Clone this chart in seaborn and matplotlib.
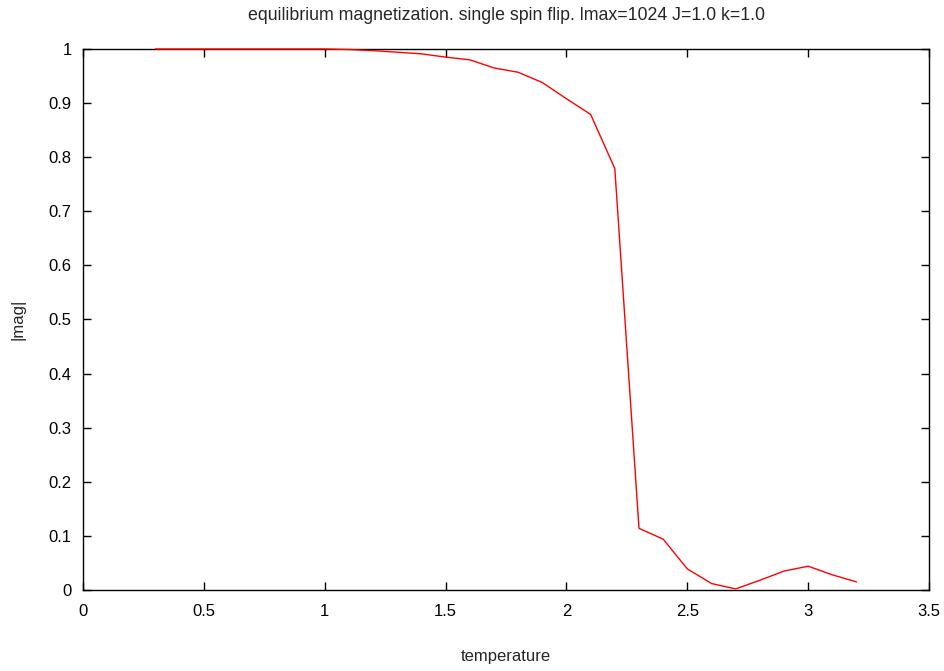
import numpy as np
import pandas as pd
import matplotlib
matplotlib.use("Agg")
import matplotlib.pyplot as plt
import seaborn as sns

# valeurs
temperature = [0.3, 0.4, 0.5, 0.6, 0.7, 0.8, 0.9, 1.0, 1.1, 1.2, 1.3, 1.4, 1.5,
               1.6, 1.7, 1.8, 1.9, 2.0, 2.1, 2.2, 2.3, 2.4, 2.5, 2.6, 2.7, 2.8,
               2.9, 3.0, 3.1, 3.2]
mag = [1.0, 1.0, 1.0, 1.0, 1.0, 1.0, 1.0, 1.0, 0.999, 0.997, 0.994, 0.991, 0.985,
       0.980, 0.965, 0.957, 0.938, 0.908, 0.879, 0.779, 0.114, 0.094, 0.039, 0.012,
       0.002, 0.018, 0.035, 0.044, 0.028, 0.015]

x_ticks = [0, 0.5, 1, 1.5, 2, 2.5, 3, 3.5]
x_ticklabels = ["0", "0.5", "1", "1.5", "2", "2.5", "3", "3.5"]
y_ticks = [0, 0.1, 0.2, 0.3, 0.4, 0.5, 0.6, 0.7, 0.8, 0.9, 1.0]
y_ticklabels = ["0", "0.1", "0.2", "0.3", "0.4", "0.5", "0.6", "0.7", "0.8", "0.9", "1"]

df = pd.DataFrame({"temperature": temperature, "mag": mag})

sns.set_style("ticks")
plt.rcParams["font.family"] = ["Liberation Sans", "DejaVu Sans"]
plt.rcParams["font.size"] = 12

fig = plt.figure(figsize=(9.44, 6.71), dpi=100)
ax = fig.add_axes([0.0879, 0.1207, 0.8963, 0.8063])

sns.lineplot(data=df, x="temperature", y="mag", color="#ff0000", linewidth=1.0, ax=ax)
for ln in ax.lines:
    ln.set_clip_on(False)
    ln.set_zorder(5)

ax.set_xlim(0, 3.5)
ax.set_ylim(0, 1)
ax.set_xticks(x_ticks)
ax.set_xticklabels(x_ticklabels)
ax.set_yticks(y_ticks)
ax.set_yticklabels(y_ticklabels)
ax.tick_params(axis="x", direction="in", length=6, width=1, top=True,
               labelsize=12, colors="black", pad=10)
ax.tick_params(axis="y", direction="in", length=6, width=1, right=True,
               labelsize=12, colors="black", pad=8)
for s in ax.spines.values():
    s.set_visible(True)
    s.set_linewidth(1.0)
    s.set_color("black")

ax.set_xlabel("temperature", fontsize=12, labelpad=22)
ax.set_ylabel("|mag|", fontsize=12, labelpad=17)
ax.set_title("equilibrium magnetization. single spin flip. lmax=1024 J=1.0 k=1.0",
             fontsize=12.8, pad=21)

plt.savefig("out.png", dpi=100)
